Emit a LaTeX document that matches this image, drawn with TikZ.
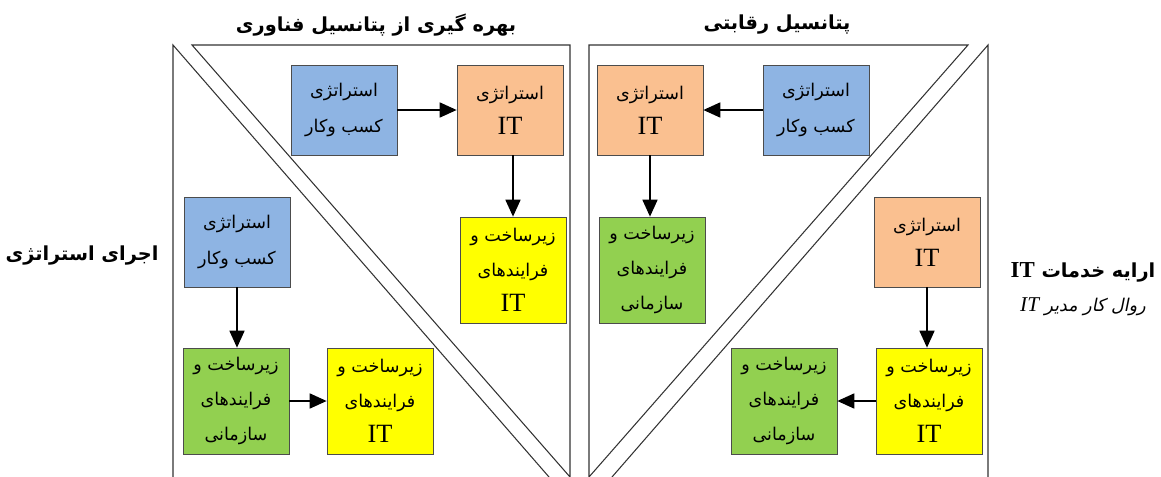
\documentclass[tikz,border=0pt]{standalone}
\usepackage{fontspec}
\setmainfont{Liberation Serif}
\newfontfamily\arabicfont[Script=Arabic]{DejaVu Sans}
\newfontfamily\arabicslant[Script=Arabic,FakeSlant=0.2]{DejaVu Sans}
\TeXXeTstate=1
\usetikzlibrary{arrows.meta}

\definecolor{busblue}{RGB}{142,180,227}
\definecolor{itorange}{RGB}{250,192,144}
\definecolor{infyellow}{RGB}{255,255,0}
\definecolor{orggreen}{RGB}{146,208,80}

\newcommand{\fa}[1]{{\arabicfont\beginR #1\endR}}
\newcommand{\itx}{{\fontsize{15}{20}\selectfont IT}}

\begin{document}
\begin{tikzpicture}[x=0.02cm,y=-0.02cm]
    \tikzstyle{box}=[draw=black!70, thin, minimum width=2.12cm, align=center, inner sep=2pt, font=\fontsize{10}{20}\selectfont]
    \tikzstyle{shortbox}=[box, minimum height=1.8cm]
    \tikzstyle{tallbox}=[box, minimum height=2.12cm]
    \tikzstyle{flow}=[line width=1pt, -{Triangle[length=3.4mm,width=3mm]}]
    \tikzstyle{frame}=[line width=0.6pt, black!80]
    \tikzstyle{title}=[font=\fontsize{11}{14}\selectfont\bfseries]

    \useasboundingbox (0,0) rectangle (1161,477);

    % frames
    \draw[frame] (173,477) -- (173,45) -- (549,477);
    \draw[frame] (192,45) -- (570,45) -- (570,477) -- cycle;
    \draw[frame] (968,45) -- (589,45) -- (589,477) -- cycle;
    \draw[frame] (612,477) -- (988,45) -- (988,477);

    % titles
    \node[title] (ttl1) at (376,25) {\fa{بهره گیری از پتانسیل فناوری}};
    \node[title] (ttl2) at (777,25) {\fa{پتانسیل رقابتی}};
    \node[title] (ttl3) at (82,256) {\fa{اجرای استراتژی}};
    \node[title] (ttl4) at (1083,272) {\fa{ارایه خدمات {\rmfamily\fontsize{13}{14}\selectfont IT}}};
    \node[font=\fontsize{10}{14}\selectfont] (ttl5) at (1083,307)
        {{\arabicslant\beginR روال کار مدیر {\rmfamily\itshape\fontsize{12}{14}\selectfont IT}\endR}};

    % upper left triangle
    \node[shortbox, fill=busblue] (bus1) at (344,110) {\fa{استراتژی}\\\fa{کسب وکار}};
    \node[shortbox, fill=itorange] (its1) at (510,110) {\fa{استراتژی}\\\itx};
    \node[tallbox, fill=infyellow] (inf1) at (513,270) {\fa{زیرساخت و}\\\fa{فرایندهای}\\\itx};
    \draw[flow] (bus1) -- (its1);
    \draw[flow] (its1.south -| inf1.north) -- (inf1.north);

    % lower left triangle
    \node[shortbox, fill=busblue] (bus2) at (237,242) {\fa{استراتژی}\\\fa{کسب وکار}};
    \node[tallbox, fill=orggreen] (org2) at (236,401) {\fa{زیرساخت و}\\\fa{فرایندهای}\\\fa{سازمانی}};
    \node[tallbox, fill=infyellow] (inf2) at (380,401) {\fa{زیرساخت و}\\\fa{فرایندهای}\\\itx};
    \draw[flow] (bus2.south) -- (bus2.south |- org2.north);
    \draw[flow] (org2) -- (inf2);

    % upper right triangle
    \node[shortbox, fill=itorange] (its3) at (650,110) {\fa{استراتژی}\\\itx};
    \node[shortbox, fill=busblue] (bus3) at (816,110) {\fa{استراتژی}\\\fa{کسب وکار}};
    \node[tallbox, fill=orggreen] (org3) at (652,270) {\fa{زیرساخت و}\\\fa{فرایندهای}\\\fa{سازمانی}};
    \draw[flow] (bus3) -- (its3);
    \draw[flow] (its3.south) -- (its3.south |- org3.north);

    % lower right triangle
    \node[shortbox, fill=itorange] (its4) at (927,242) {\fa{استراتژی}\\\itx};
    \node[tallbox, fill=infyellow] (inf4) at (929,401) {\fa{زیرساخت و}\\\fa{فرایندهای}\\\itx};
    \node[tallbox, fill=orggreen] (org4) at (784,401) {\fa{زیرساخت و}\\\fa{فرایندهای}\\\fa{سازمانی}};
    \draw[flow] (its4.south) -- (its4.south |- inf4.north);
    \draw[flow] (inf4) -- (org4);

\end{tikzpicture}
\end{document}
